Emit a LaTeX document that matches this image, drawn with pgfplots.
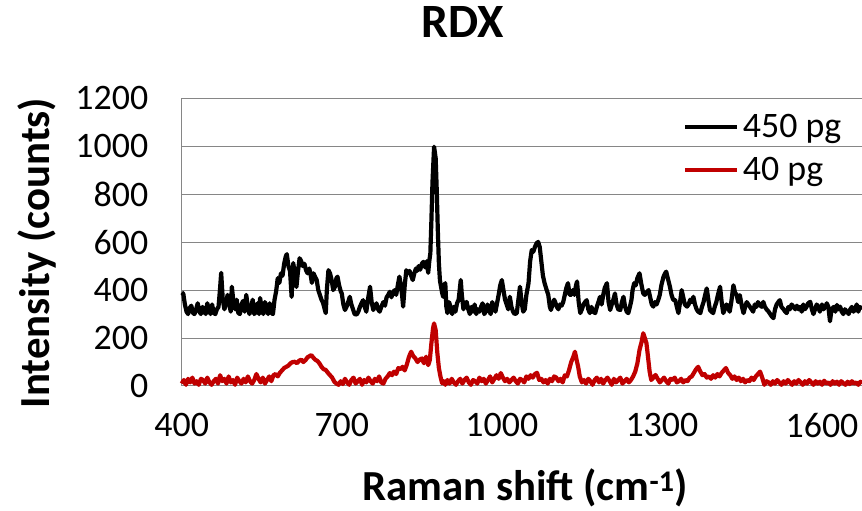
\documentclass[border=0pt]{standalone}
\usepackage{fontspec}
\setmainfont{Carlito}
\usepackage{pgfplots}
\usepackage{pgfplotstable}
\pgfplotsset{compat=1.18}
\definecolor{exred}{RGB}{192,0,0}
\definecolor{gridgray}{RGB}{134,134,134}

\pgfplotstableread{
x y
400 390
403 385
406 340
409 310
412 300
415 325
418 335
421 305
424 300
427 320
430 345
433 310
436 300
439 330
442 315
445 300
448 345
451 320
454 300
457 340
460 305
463 300
466 320
469 330
472 410
474 472
477 360
480 320
483 345
486 380
489 340
492 310
494 414
497 350
500 320
503 360
506 305
509 300
512 340
515 355
518 310
521 380
524 330
527 300
530 325
533 360
536 300
539 310
542 345
545 300
547 367
550 320
553 300
556 350
559 330
562 300
565 345
568 305
571 300
574 360
577 395
580 450
583 430
586 470
589 460
592 510
595 540
597 550
600 500
603 480
606 372
609 513
612 470
615 413
618 480
621 533
624 520
627 500
630 510
633 483
636 470
639 490
641 473
644 430
647 470
650 455
653 442
656 400
659 380
662 360
665 346
668 320
670 304
672 400
675 483
678 470
681 442
684 400
687 413
690 450
692 456
695 420
698 395
700 386
703 340
706 317
709 330
712 350
715 372
718 340
721 320
724 300
728 298
731 310
734 330
737 345
740 358
743 330
746 310
749 360
752 400
753 414
756 350
759 317
762 330
765 345
768 320
771 310
774 330
778 350
781 335
784 370
787 380
790 393
793 370
796 390
799 400
802 380
805 420
808 456
810 430
813 380
815 331
818 420
821 483
824 470
827 480
830 460
833 442
836 470
839 490
841 480
844 500
847 485
850 510
853 518
856 495
859 520
862 472
864 520
866 554
868 692
870 850
873 998
876 950
878 817
880 650
882 512
884 440
886 414
888 390
890 372
892 420
894 429
896 330
898 304
901 350
904 330
907 300
910 330
913 310
916 345
919 360
921 400
923 442
925 380
928 320
931 340
934 351
937 320
940 300
943 330
946 310
949 340
952 300
955 320
958 310
961 330
964 345
967 300
970 310
973 340
976 320
979 300
982 350
985 330
988 310
991 345
994 380
997 420
1000 442
1003 400
1006 360
1009 340
1012 320
1015 372
1018 330
1021 310
1024 300
1028 304
1031 360
1034 414
1037 350
1040 310
1043 320
1046 380
1050 429
1053 520
1056 567
1059 560
1062 580
1065 595
1068 601
1071 580
1074 520
1077 460
1080 430
1084 400
1087 380
1090 330
1092 317
1095 340
1098 360
1100 350
1103 330
1106 320
1109 340
1112 335
1115 350
1118 380
1121 410
1124 429
1127 380
1130 380
1133 400
1136 380
1139 420
1141 436
1144 350
1147 304
1150 320
1153 340
1156 350
1159 358
1162 320
1165 304
1168 330
1171 310
1175 304
1178 330
1181 350
1184 372
1187 340
1190 380
1193 410
1197 429
1200 350
1203 317
1206 340
1209 360
1212 386
1215 340
1218 320
1222 317
1225 350
1228 372
1231 330
1234 310
1237 304
1240 330
1243 360
1245 400
1248 429
1251 420
1254 450
1258 470
1261 430
1265 386
1268 380
1271 390
1275 400
1278 370
1281 340
1284 331
1287 350
1290 340
1293 358
1296 380
1299 420
1303 456
1306 470
1308 477
1311 450
1315 414
1318 380
1321 360
1325 358
1328 330
1331 304
1334 350
1337 400
1340 370
1343 340
1347 331
1350 340
1353 360
1356 350
1359 372
1362 340
1365 320
1368 310
1372 304
1375 330
1378 350
1381 380
1384 407
1387 360
1390 317
1393 310
1396 304
1399 330
1402 350
1405 380
1409 414
1412 350
1415 304
1418 320
1421 340
1424 330
1427 310
1430 350
1434 420
1437 390
1440 380
1443 350
1446 379
1450 330
1453 304
1456 330
1459 350
1462 340
1465 330
1468 320
1471 310
1474 340
1477 330
1480 350
1483 340
1487 330
1490 351
1493 330
1496 320
1500 310
1503 300
1506 290
1509 283
1512 320
1515 340
1518 350
1521 358
1524 330
1528 320
1531 310
1534 304
1537 330
1540 320
1543 340
1547 330
1550 320
1553 335
1556 320
1559 330
1562 310
1565 340
1568 320
1571 330
1574 345
1578 351
1581 320
1584 300
1587 320
1590 340
1593 330
1596 310
1600 340
1603 320
1606 330
1609 345
1612 330
1615 270
1618 320
1622 330
1625 310
1628 338
1631 320
1634 331
1637 310
1640 300
1643 320
1647 310
1650 300
1653 320
1656 330
1659 310
1662 320
1665 340
1668 310
1671 330
1675 320
}\blackdata

\pgfplotstableread{
x y
400 10
404 25
408 5
412 30
416 15
420 35
424 10
428 20
432 5
436 30
440 25
444 10
448 35
452 15
456 5
460 20
464 30
468 10
472 45
476 20
480 30
484 10
488 40
492 15
496 25
500 5
504 35
508 20
512 10
516 30
520 15
524 40
528 20
532 10
536 25
540 50
544 30
548 15
552 35
556 10
560 25
564 40
568 20
572 45
576 50
580 40
584 55
588 65
592 75
596 80
600 85
604 95
608 100
612 101
616 95
620 105
624 110
628 100
632 108
636 120
640 125
643 129
646 120
650 110
654 105
658 95
662 80
666 70
670 67
674 55
678 45
682 35
686 18
690 10
694 5
698 20
702 8
706 30
710 15
714 5
718 25
722 35
726 10
730 20
734 30
738 5
742 25
746 15
750 35
754 20
758 10
762 30
766 20
770 40
774 15
778 10
782 30
786 40
790 54
794 45
798 60
802 50
806 75
810 70
814 80
818 65
822 90
826 122
830 143
834 125
838 115
842 100
846 110
850 115
854 95
858 122
862 87
865 108
868 179
871 240
873 261
876 233
879 140
882 75
885 39
888 12
891 20
894 5
898 25
902 10
906 30
910 15
914 5
918 20
922 30
926 10
930 25
934 35
938 15
942 5
946 25
950 20
954 10
958 35
962 20
966 30
970 10
974 25
978 40
982 15
986 30
990 45
994 30
998 54
1002 35
1006 20
1010 30
1014 15
1018 25
1022 35
1026 20
1030 10
1034 30
1038 25
1042 15
1046 40
1050 30
1054 45
1058 35
1062 50
1066 55
1070 25
1074 30
1078 15
1082 25
1086 10
1090 30
1094 20
1098 40
1102 35
1106 20
1110 30
1114 15
1118 45
1122 40
1126 67
1130 100
1134 122
1137 143
1140 110
1143 80
1146 40
1150 15
1154 25
1158 10
1162 30
1166 20
1170 5
1174 25
1178 35
1182 15
1186 30
1190 10
1194 25
1198 35
1202 20
1206 5
1210 30
1214 15
1218 25
1222 35
1226 10
1230 20
1234 30
1238 15
1242 25
1246 40
1250 60
1254 94
1258 150
1262 185
1265 220
1268 200
1271 179
1274 120
1277 60
1280 25
1284 35
1288 46
1292 30
1296 15
1300 25
1304 35
1308 20
1312 10
1316 30
1320 25
1324 35
1328 15
1332 20
1336 30
1340 15
1344 25
1348 20
1352 35
1356 40
1360 55
1364 70
1368 80
1372 60
1376 45
1380 50
1384 35
1388 40
1392 30
1396 45
1400 35
1404 50
1408 40
1412 55
1416 65
1420 75
1424 55
1428 45
1432 30
1436 40
1440 25
1444 35
1448 20
1452 30
1456 15
1460 25
1464 20
1468 35
1472 25
1476 40
1480 50
1484 60
1488 35
1492 5
1496 20
1500 15
1504 5
1508 20
1512 10
1516 25
1520 15
1524 5
1528 20
1532 10
1536 25
1540 15
1544 5
1548 20
1552 10
1556 25
1560 15
1564 5
1568 20
1572 10
1576 25
1580 15
1584 5
1588 20
1592 10
1596 18
1600 5
1604 22
1608 10
1612 15
1616 5
1620 20
1624 10
1628 18
1632 5
1636 20
1640 12
1644 5
1648 18
1652 8
1656 20
1660 10
1664 15
1668 5
1672 18
1675 10
}\reddata

\begin{document}
\begin{tikzpicture}
\useasboundingbox (0,0) rectangle (862bp,511bp);
\begin{axis}[
  at={(181.7bp,125bp)}, anchor=south west,
  scale only axis, width=680.3bp, height=287.7bp,
  xmin=400, xmax=1675, ymin=0, ymax=1200,
  xtick={400,700,1000,1300,1600}, ytick={0,200,...,1200},
  axis x line*=bottom, axis y line*=left,
  axis line style={draw=gridgray, line width=1bp},
  ymajorgrids, grid style={draw=gridgray, line width=1bp},
  major tick length=0pt,
  tick label style={font=\fontsize{36}{42}\selectfont},
  /pgf/number format/assume math mode=true,
  /pgf/number format/1000 sep={},
  xticklabel style={yshift=-23.5bp},
  yticklabel style={xshift=-30bp},
  clip=false,
  legend style={at={(0.737,0.944)}, anchor=north west, draw=none, fill=none,
    font=\fontsize{36}{42}\selectfont, row sep=18bp, inner sep=0pt,
    nodes={inner sep=0pt, inner xsep=3.5bp}},
  legend cell align=left,
  legend image code/.code={\draw[#1, line width=4.2bp] (0bp,0bp) -- (52bp,0bp);},
]
\addplot[black, line width=4.2bp, line join=round] table[x=x,y=y]{\blackdata};
\addlegendentry{450 pg}
\addplot[exred, line width=4.2bp, line join=round] table[x=x,y=y]{\reddata};
\addlegendentry{40 pg}
\end{axis}
\node[font=\bfseries\fontsize{48}{56}\selectfont, anchor=base] at (463bp,473.7bp) {RDX};
\node[font=\bfseries\fontsize{43}{50}\selectfont, anchor=base] at (525bp,10.5bp) {Raman shift (cm\textsuperscript{-1})};
\node[font=\bfseries\fontsize{43}{50}\selectfont, rotate=90] at (37bp,258bp) {Intensity (counts)};
\end{tikzpicture}
\end{document}
